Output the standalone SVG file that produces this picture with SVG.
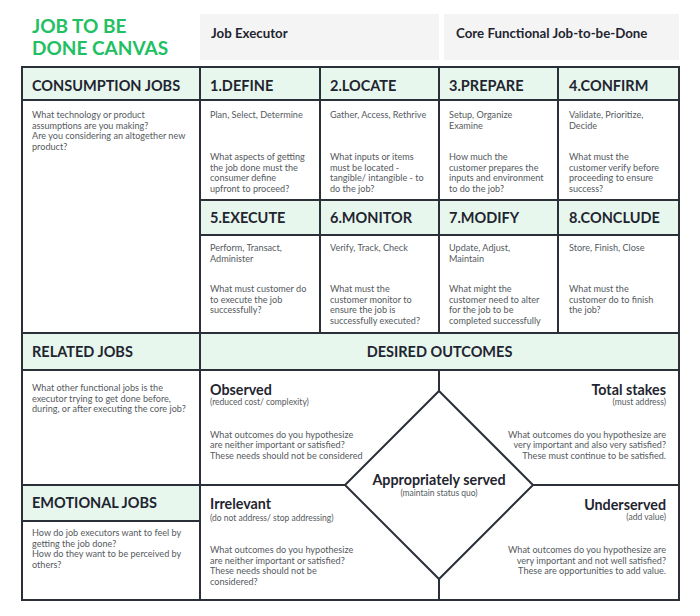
<svg xmlns="http://www.w3.org/2000/svg" width="700" height="616" viewBox="0 0 700 616">
<style>
text{font-family:Lato,"Open Sans","Liberation Sans",sans-serif}
.t{font-size:19px;font-weight:bold;fill:#22c063}
.top{font-size:13.3px;font-weight:bold;fill:#1f2530}
.h{font-size:14.5px;font-weight:bold;fill:#1f2530}
.b{font-size:9.1px;fill:#555a60}
.q{font-size:14.3px;font-weight:bold;fill:#1f2530}
.s{font-size:8.5px;fill:#555a60}
.r{text-anchor:end}
.c{text-anchor:middle}
.hd{fill:#e8f7ee}
.ln{stroke:#2a2f38;stroke-width:2;fill:none}
</style>
<rect width="700" height="616" fill="#fff"/>
<g id="title">
<text class="t" x="32" y="33">JOB TO BE</text>
<text class="t" x="32" y="55">DONE CANVAS</text>
</g>
<g id="job-executor">
<rect x="200" y="14" width="239" height="46" fill="#f4f4f4"/>
<text class="top" x="211" y="38">Job Executor</text>
</g>
<g id="core-job">
<rect x="444" y="14" width="235" height="46" fill="#f4f4f4"/>
<text class="top" x="456" y="38">Core Functional Job-to-be-Done</text>
</g>
<g id="header-fills">
<rect class="hd" x="22" y="67" width="657" height="33"/>
<rect class="hd" x="200" y="200" width="479" height="35"/>
<rect class="hd" x="22" y="333" width="657" height="37"/>
<rect class="hd" x="22" y="485" width="178" height="36"/>
</g>
<g id="consumption-jobs">
<text class="h" x="32" y="91">CONSUMPTION JOBS</text>
<text class="b" x="32" y="118">What technology or product</text>
<text class="b" x="32" y="128.6">assumptions are you making?</text>
<text class="b" x="32" y="139.2">Are you considering an altogether new</text>
<text class="b" x="32" y="149.8">product?</text>
</g>
<g id="define">
<text class="h" x="210" y="91">1.DEFINE</text>
<text class="b" x="210" y="118">Plan, Select, Determine</text>
<text class="b" x="210" y="160">What aspects of getting</text>
<text class="b" x="210" y="170.6">the job done must the</text>
<text class="b" x="210" y="181.2">consumer define</text>
<text class="b" x="210" y="191.8">upfront to proceed?</text>
</g>
<g id="locate">
<text class="h" x="330" y="91">2.LOCATE</text>
<text class="b" x="330" y="118">Gather, Access, Rethrive</text>
<text class="b" x="330" y="160">What inputs or items</text>
<text class="b" x="330" y="170.6">must be located -</text>
<text class="b" x="330" y="181.2">tangible/ intangible - to</text>
<text class="b" x="330" y="191.8">do the job?</text>
</g>
<g id="prepare">
<text class="h" x="449" y="91">3.PREPARE</text>
<text class="b" x="449" y="118">Setup, Organize</text>
<text class="b" x="449" y="128.6">Examine</text>
<text class="b" x="449" y="160">How much the</text>
<text class="b" x="449" y="170.6">customer prepares the</text>
<text class="b" x="449" y="181.2">inputs and environment</text>
<text class="b" x="449" y="191.8">to do the job?</text>
</g>
<g id="confirm">
<text class="h" x="569" y="91">4.CONFIRM</text>
<text class="b" x="569" y="118">Validate, Prioritize,</text>
<text class="b" x="569" y="128.6">Decide</text>
<text class="b" x="569" y="160">What must the</text>
<text class="b" x="569" y="170.6">customer verify before</text>
<text class="b" x="569" y="181.2">proceeding to ensure</text>
<text class="b" x="569" y="191.8">success?</text>
</g>
<g id="execute">
<text class="h" x="210" y="223">5.EXECUTE</text>
<text class="b" x="210" y="251">Perform, Transact,</text>
<text class="b" x="210" y="261.6">Administer</text>
<text class="b" x="210" y="292">What must customer do</text>
<text class="b" x="210" y="302.6">to execute the job</text>
<text class="b" x="210" y="313.2">successfully?</text>
</g>
<g id="monitor">
<text class="h" x="330" y="223">6.MONITOR</text>
<text class="b" x="330" y="251">Verify, Track, Check</text>
<text class="b" x="330" y="292">What must the</text>
<text class="b" x="330" y="302.6">customer monitor to</text>
<text class="b" x="330" y="313.2">ensure the job is</text>
<text class="b" x="330" y="323.8">successfully executed?</text>
</g>
<g id="modify">
<text class="h" x="449" y="223">7.MODIFY</text>
<text class="b" x="449" y="251">Update, Adjust,</text>
<text class="b" x="449" y="261.6">Maintain</text>
<text class="b" x="449" y="292">What might the</text>
<text class="b" x="449" y="302.6">customer need to alter</text>
<text class="b" x="449" y="313.2">for the job to be</text>
<text class="b" x="449" y="323.8">completed successfully</text>
</g>
<g id="conclude">
<text class="h" x="569" y="223">8.CONCLUDE</text>
<text class="b" x="569" y="251">Store, Finish, Close</text>
<text class="b" x="569" y="292">What must the</text>
<text class="b" x="569" y="302.6">customer do to finish</text>
<text class="b" x="569" y="313.2">the job?</text>
</g>
<g id="related-jobs">
<text class="h" x="32" y="357">RELATED JOBS</text>
<text class="b" x="32" y="391">What other functional jobs is the</text>
<text class="b" x="32" y="401.6">executor trying to get done before,</text>
<text class="b" x="32" y="412.2">during, or after executing the core job?</text>
</g>
<g id="emotional-jobs">
<text class="h" x="32" y="508">EMOTIONAL JOBS</text>
<text class="b" x="32" y="536">How do job executors want to feel by</text>
<text class="b" x="32" y="546.6">getting the job done?</text>
<text class="b" x="32" y="557.2">How do they want to be perceived by</text>
<text class="b" x="32" y="567.8">others?</text>
</g>
<g id="desired-outcomes">
<text class="h c" x="439.5" y="357">DESIRED OUTCOMES</text>
</g>
<g id="observed">
<text class="q" x="210" y="395">Observed</text>
<text class="s" x="210" y="405">(reduced cost/ complexity)</text>
<text class="b" x="210" y="437.5">What outcomes do you hypothesize</text>
<text class="b" x="210" y="448.1">are neither important or satisfied?</text>
<text class="b" x="210" y="458.7">These needs should not be considered</text>
</g>
<g id="total-stakes">
<text class="q r" x="666" y="395">Total stakes</text>
<text class="s r" x="666" y="405">(must address)</text>
<text class="b r" x="666" y="437.5">What outcomes do you hypothesize are</text>
<text class="b r" x="666" y="448.1">very important and also very satisfied?</text>
<text class="b r" x="666" y="458.7">These must continue to be satisfied.</text>
</g>
<g id="appropriately-served">
<polygon class="ln" points="439,391 533,485 439,579 345,485"/>
<text class="q c" x="439" y="485">Appropriately served</text>
<text class="s c" x="439" y="496">(maintain status quo)</text>
</g>
<g id="irrelevant">
<text class="q" x="210" y="509">Irrelevant</text>
<text class="s" x="210" y="521">(do not address/ stop addressing)</text>
<text class="b" x="210" y="553">What outcomes do you hypothesize</text>
<text class="b" x="210" y="563.6">are neither important or satisfied?</text>
<text class="b" x="210" y="574.2">These needs should not be</text>
<text class="b" x="210" y="584.8">considered?</text>
</g>
<g id="underserved">
<text class="q r" x="666" y="510">Underserved</text>
<text class="s r" x="666" y="520">(add value)</text>
<text class="b r" x="666" y="553">What outcomes do you hypothesize are</text>
<text class="b r" x="666" y="563.6">very important and not well satisfied?</text>
<text class="b r" x="666" y="574.2">These are opportunities to add value.</text>
</g>
<g id="connectors" class="ln">
<rect x="22" y="67" width="657" height="533"/>
<path d="M200 67V600M320 67V333M439 67V333M558 67V333M439 370V391M439 579V600"/>
<path d="M22 100H679M200 200H679M200 235H679M22 333H679M22 370H679M22 485H345M533 485H679M22 521H200"/>
</g>
</svg>
